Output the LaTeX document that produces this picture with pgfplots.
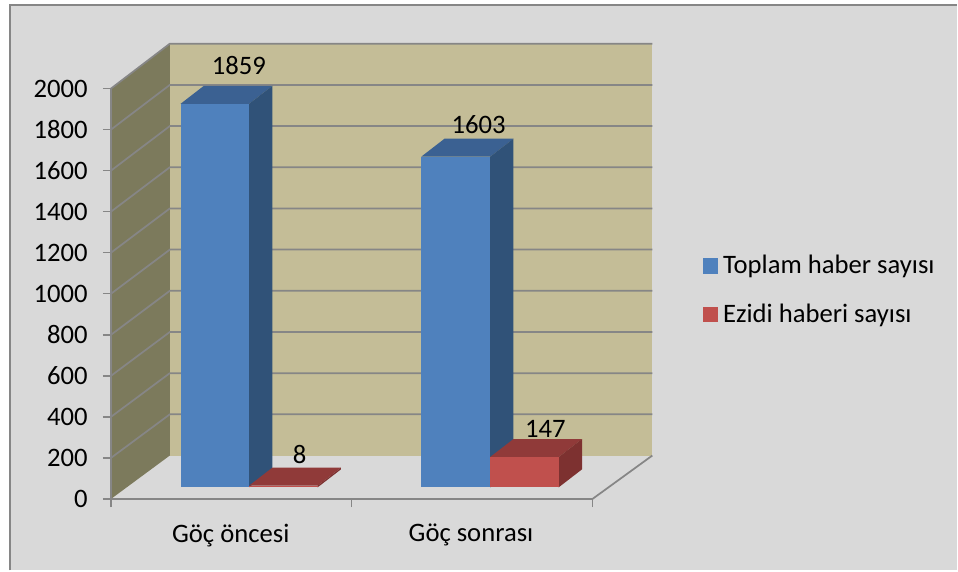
\documentclass[border=0pt]{standalone}
\usepackage{pgfplots}
\pgfplotsset{compat=1.18}
\usepackage{fontspec}
\setmainfont{Carlito}
\definecolor{bgc}{HTML}{D9D9D9}
\definecolor{gridc}{HTML}{868686}
\definecolor{backw}{HTML}{C4BD97}
\definecolor{sidew}{HTML}{7C7A5C}
\definecolor{bluef}{HTML}{4F81BD}
\definecolor{bluet}{HTML}{3B6192}
\definecolor{blues}{HTML}{305278}
\definecolor{redf}{HTML}{C0504D}
\definecolor{redt}{HTML}{903A39}
\definecolor{reds}{HTML}{7D3130}
% one 3-D column: x-left, x-right, value, colour stem
\pgfplotsset{face/.style={forget plot,draw=none,fill=#1}}
\newcommand\col[4]{%
 \addplot[face=#4t] table[row sep=\\,x expr=\thisrow{x}+23.3*\thisrow{d},y expr=57+1.0053*\thisrow{v}+87.6*\thisrow{d}]
   {x v d\\ #1 #3 0\\ #2 #3 0\\ #2 #3 1\\ #1 #3 1\\} -- cycle;
 \addplot[face=#4s] table[row sep=\\,x expr=\thisrow{x}+23.3*\thisrow{d},y expr=57+1.0053*\thisrow{v}+87.6*\thisrow{d}]
   {x v d\\ #2 0 0\\ #2 0 1\\ #2 #3 1\\ #2 #3 0\\} -- cycle;
 \addplot[face=#4f] table[row sep=\\,x expr=\thisrow{x}+23.3*\thisrow{d},y expr=57+1.0053*\thisrow{v}+87.6*\thisrow{d}]
   {x v d\\ #1 0 0\\ #2 0 0\\ #2 #3 0\\ #1 #3 0\\} -- cycle;
}
\begin{document}
\begin{tikzpicture}
\begin{axis}[
  scale only axis, width=361.5pt, height=308.1pt,
  xmin=111, xmax=593, ymin=0, ymax=2000,
  clip=false, axis on top,
  axis x line*=bottom, axis y line*=left,
  axis line style={draw=gridc,line width=1.5pt,-},
  tick align=outside,
  ytick={0,200,...,2000},
  xtick={231,471.5}, xticklabels={Göç öncesi,Göç sonrası},
  extra x ticks={111,352,593}, extra x tick labels={},
  x tick style={draw=none},
  extra x tick style={x tick style={draw=gridc,line width=1pt}},
  x tick label style={yshift=-9.5pt},
  y tick label style={xshift=-8pt},
  y tick style={draw=gridc,line width=1pt},
  major tick length=6pt,
  tick label style={font=\fontsize{20}{24}\selectfont,text=black},
  /pgf/number format/assume math mode=true,
  /pgf/number format/1000 sep={},
  legend cell align=left,
  legend style={at={(axis cs:703,1019)},anchor=west,draw=none,fill=none,
    font=\fontsize{20}{24}\selectfont,row sep=17pt,column sep=2pt,inner sep=0pt},
]
% canvas
\addplot[forget plot,draw=none,fill=white] coordinates {(0,-348)(958,-348)(958,2432)(0,2432)} -- cycle;
\addplot[forget plot,draw=none,fill=bgc] coordinates {(10,-348)(958,-348)(958,2407)(10,2407)} -- cycle;
\addplot[forget plot,draw=gridc,line width=1.5pt] coordinates {(10.5,-348)(10.5,2407)(958,2407)};
% walls
\addplot[forget plot,draw=none,fill=sidew] coordinates {(111,0)(111,2000)(170,2219)(170,212)} -- cycle;
\addplot[forget plot,draw=none,fill=backw] coordinates {(170,212)(170,2219)(653,2219)(653,212)} -- cycle;
% grid lines: wall edge, back corner, right end
\pgfplotsinvokeforeach{200,400,...,2000}{
  \addplot[forget plot,draw=gridc,line width=1.3pt] table[row sep=\\,y expr={212+1.0035*\thisrow{v}*\thisrow{b}+\thisrow{v}*(1-\thisrow{b})-212*(1-\thisrow{b})}] {x v b\\ 111 #1 0\\ 170 #1 1\\ 653 #1 1\\};
}
\addplot[forget plot,draw=gridc,line width=1.3pt] coordinates {(593,0)(653,212)};
% columns
\col{180.7}{249.3}{1859}{blue}
\col{249.3}{318}{8}{red}
\col{421.7}{490.7}{1603}{blue}
\col{490.7}{559.3}{147}{red}
% data labels
\addplot[forget plot,draw=none,mark=none,point meta=explicit symbolic,
  nodes near coords,nodes near coords align=center,
  every node near coord/.style={font=\fontsize{20}{24}\selectfont,text=black,inner sep=0pt}]
  table[row sep=\\,meta=l] {x y l\\ 239 2112 1859\\ 479 1824 1603\\ 300 218 8\\ 546 343 147\\};
\addlegendimage{legend image code/.code={\fill[bluef] (0pt,-5.5pt) rectangle (11pt,5.5pt);}}
\addlegendentry{Toplam haber sayısı}
\addlegendimage{legend image code/.code={\fill[redf] (0pt,-5.5pt) rectangle (11pt,5.5pt);}}
\addlegendentry{Ezidi haberi sayısı}
\end{axis}
\end{tikzpicture}
\end{document}
